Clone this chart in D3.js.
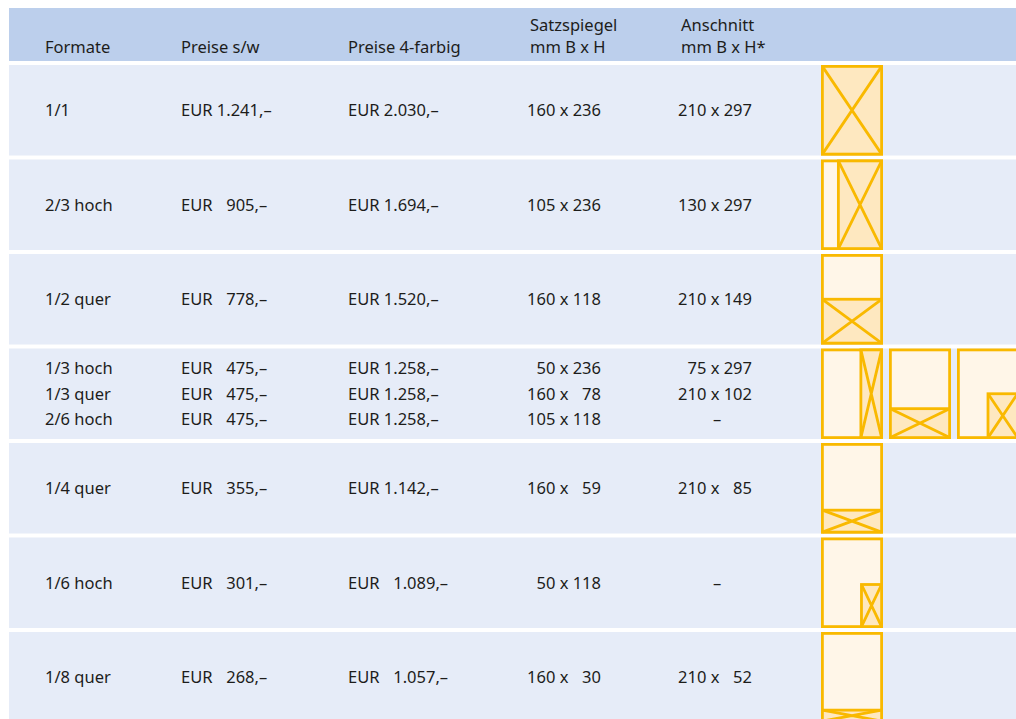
<!DOCTYPE html>
<html>
<head>
<meta charset="utf-8">
<script src="https://cdn.jsdelivr.net/npm/d3@7"></script>
<style>
  body { margin: 0; background: #fff; }
  svg text { font-family: "Noto Sans", "Open Sans", sans-serif; font-size: 16.5px; fill: #1d1d1b; white-space: pre; }
</style>
</head>
<body>
<script>
// table content
var headers = [["Formate"], ["Preise s/w"], ["Preise 4-farbig"], ["Satzspiegel", "mm B x H"], ["Anschnitt", "mm B x H*"]];
var formate = ["1/1", "2/3 hoch", "1/2 quer", "1/3 hoch", "1/3 quer", "2/6 hoch", "1/4 quer", "1/6 hoch", "1/8 quer"];
var rowOf = [0, 1, 2, 3, 3, 3, 4, 5, 6];
var preisSW = ["EUR 1.241,–", "EUR \u2007905,–", "EUR \u2007778,–", "EUR \u2007475,–", "EUR \u2007475,–", "EUR \u2007475,–", "EUR \u2007355,–", "EUR \u2007301,–", "EUR \u2007268,–"];
var preis4c = ["EUR 2.030,–", "EUR 1.694,–", "EUR 1.520,–", "EUR 1.258,–", "EUR 1.258,–", "EUR 1.258,–", "EUR 1.142,–", "EUR \u20071.089,–", "EUR \u20071.057,–"];
var satzspiegel = ["160 x 236", "105 x 236", "160 x 118", "50 x 236", "160 x \u200778", "105 x 118", "160 x \u200759", "50 x 118", "160 x \u200730"];
var anschnitt = ["210 x 297", "130 x 297", "210 x 149", "75 x 297", "210 x 102", "–", "210 x \u200785", "–", "210 x \u200752"];

// ad area inside the page icon, as fractions [x0, y0, x1, y1]
var adArea = [[0, 0, 1, 1], [0.27, 0, 1, 1], [0, 0.5, 1, 1], [0.65, 0, 1, 1], [0, 0.67, 1, 1], [0.5, 0.5, 1, 1], [0, 0.75, 1, 1], [0.66, 0.52, 1, 1], [0, 0.875, 1, 1]];

var W = 1016, H = 719;
var svg = d3.select("body").append("svg").attr("width", W).attr("height", H);

var nRows = 7;
var y = d3.scaleBand()
    .domain(d3.range(nRows))
    .range([65, 65 + nRows * 94.5 - 4])
    .paddingInner(4 / 94.5)
    .paddingOuter(0);

// header band
svg.append("rect").attr("x", 9).attr("y", 8).attr("width", W - 9).attr("height", 53).attr("fill", "#bccfec");

var colX = [45, 181, 348, 530, 681];
headers.forEach(function(h, i) {
  h.forEach(function(line, j) {
    svg.append("text")
      .attr("x", colX[i])
      .attr("y", 53 - (h.length - 1 - j) * 22)
      .text(line);
  });
});

// row backgrounds
svg.selectAll("rect.row")
  .data(d3.range(nRows))
  .enter().append("rect")
    .attr("class", "row")
    .attr("x", 9)
    .attr("y", function(d) { return y(d); })
    .attr("width", W - 9)
    .attr("height", y.bandwidth())
    .attr("fill", "#e6ecf8");

// lines of text
var items = formate.map(function(f, i) {
  var r = rowOf[i];
  var inRow = rowOf.filter(function(v) { return v === r; }).length;
  var k = rowOf.slice(0, i).filter(function(v) { return v === r; }).length;
  return { i: i, row: r, k: k, n: inRow };
});

function baseline(d) {
  return y(d.row) + y.bandwidth() / 2 + 6 + (d.k - (d.n - 1) / 2) * 25.5;
}

var cols = [
  { vals: formate, x: 45, anchor: "start" },
  { vals: preisSW, x: 181, anchor: "start" },
  { vals: preis4c, x: 348, anchor: "start" },
  { vals: satzspiegel, x: 601, anchor: "end" },
  { vals: anschnitt, x: 752, anchor: "end", dashX: 717 }
];

cols.forEach(function(c) {
  svg.selectAll(null)
    .data(items)
    .enter().append("text")
      .attr("x", function(d) { return c.vals[d.i] === "–" && c.dashX ? c.dashX : c.x; })
      .attr("y", baseline)
      .attr("text-anchor", function(d) { return c.vals[d.i] === "–" && c.dashX ? "middle" : c.anchor; })
      .text(function(d) { return c.vals[d.i]; });
});

// page icons
var stroke = "#f9b900", pageFill = "#fff6e8", adFill = "#fee8c0";
var iconW = 62, iconStep = 68, iconX0 = 821, sw = 2.8;

items.forEach(function(d) {
  var x0 = iconX0 + d.k * iconStep, y0 = y(d.row);
  var ph = y.bandwidth();
  var g = svg.append("g");
  var px = x0 + sw / 2, py = y0 + sw / 2, pw = iconW - sw, pH = ph - sw;
  g.append("rect").attr("x", px).attr("y", py).attr("width", pw).attr("height", pH)
    .attr("fill", pageFill).attr("stroke", stroke).attr("stroke-width", sw);
  var a = adArea[d.i];
  var ax0 = px + a[0] * pw, ay0 = py + a[1] * pH, ax1 = px + a[2] * pw, ay1 = py + a[3] * pH;
  g.append("rect").attr("x", ax0).attr("y", ay0).attr("width", ax1 - ax0).attr("height", ay1 - ay0)
    .attr("fill", adFill).attr("stroke", stroke).attr("stroke-width", sw);
  g.append("path")
    .attr("d", "M" + ax0 + "," + ay0 + "L" + ax1 + "," + ay1 + "M" + ax1 + "," + ay0 + "L" + ax0 + "," + ay1)
    .attr("stroke", stroke).attr("stroke-width", sw).attr("fill", "none");
});
</script>
</body>
</html>
